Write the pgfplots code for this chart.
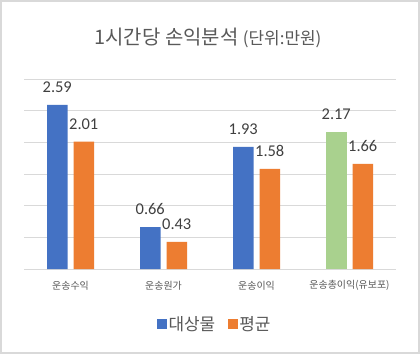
\documentclass[border=0pt]{standalone}
\usepackage{pgfplots}
\pgfplotsset{compat=1.18}
\usepackage{fontspec}
\setmainfont{Carlito}
\newfontfamily\cjk{Noto Sans CJK KR}
\definecolor{cblue}{HTML}{4472C4}
\definecolor{corange}{HTML}{ED7D31}
\definecolor{cgreen}{HTML}{A9D18E}
\definecolor{cgrid}{HTML}{D9D9D9}
\definecolor{ctext}{HTML}{595959}
\definecolor{clab}{HTML}{404040}
\begin{document}
\begin{tikzpicture}
\path[use as bounding box] (0,0) rectangle (420bp,354bp);
\fill[white] (0,0) rectangle (420bp,354bp);
\draw[cgrid, line width=2bp] (1bp,1bp) rectangle (419bp,353bp);
\node[anchor=base, text=ctext, inner sep=0pt] at (208bp,309bp)
  {\cjk\fontsize{20}{20}\selectfont 1시간당 손익분석 {\fontsize{17}{17}\selectfont (단위:만원)}};
\begin{axis}[
  at={(24bp,85bp)}, anchor=south west,
  scale only axis, width=372bp, height=190bp,
  xmin=-0.5, xmax=3.5, ymin=0, ymax=3,
  ytick={0,0.5,...,3}, yticklabels={},
  xtick={0,1,2,3},
  xticklabels={운송수익,운송원가,운송이익,운송총이익(유보포)},
  xticklabel style={font=\cjk\fontsize{10}{10}\selectfont, text=ctext, anchor=center, yshift=-16.5bp, inner sep=0pt},
  major tick length=0pt,
  axis line style={draw=none},
  ymajorgrids, grid style={cgrid, line width=1bp},
  clip=false,
  ybar, bar width=20.5bp,
  nodes near coords,
  /pgf/number format/.cd, fixed, fixed zerofill, precision=2, assume math mode=true,
  /pgfplots/.cd,
  every node near coord/.append style={font=\fontsize{16.5}{16.5}\selectfont, text=clab, anchor=base, inner sep=0pt, yshift=12.5bp},
  legend columns=2,
  legend style={at={(0.512,-0.289)}, anchor=center, draw=none, fill=none,
    font=\cjk\fontsize{17}{17}\selectfont, text=ctext,
    /tikz/every even column/.append style={column sep=11bp},
    nodes={inner sep=1.5bp}},
  legend image code/.code={\fill[#1] (0bp,-5bp) rectangle (10bp,5bp);},
]
\addplot[fill=cblue, draw=none, bar shift=-13.25bp] coordinates {(0,2.59) (1,0.66) (2,1.93)};
\addlegendentry{대상물}
\addplot[fill=corange, draw=none, bar shift=13.25bp] coordinates {(0,2.01) (1,0.43) (2,1.58) (3,1.66)};
\addlegendentry{평균}
\addplot[fill=cgreen, draw=none, bar shift=-13.25bp, forget plot] coordinates {(3,2.17)};
\end{axis}
\end{tikzpicture}
\end{document}
